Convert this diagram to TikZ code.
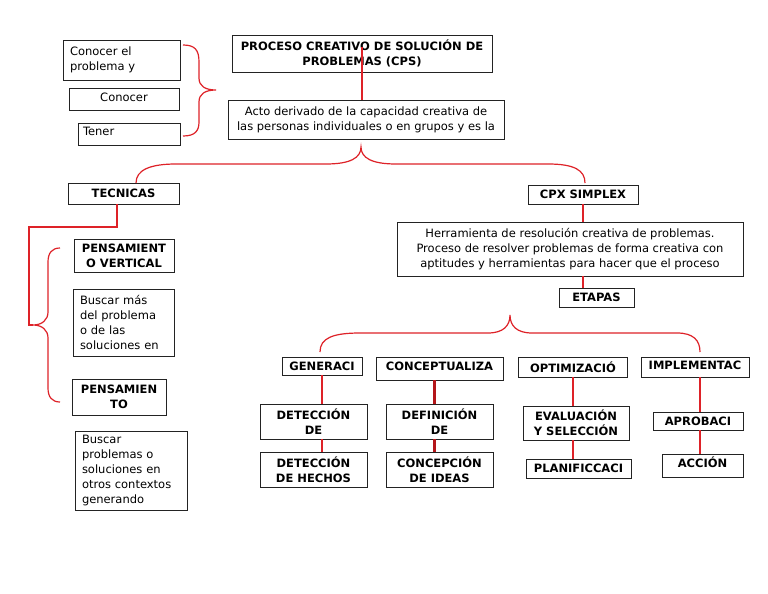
\documentclass[tikz,border=0pt]{standalone}
\usepackage{fontspec}
\setmainfont{DejaVu Sans}
\definecolor{linkred}{RGB}{222,34,40}
\definecolor{darklink}{RGB}{180,22,26}
\definecolor{boxline}{RGB}{35,35,35}
\tikzset{
  cbox/.style      = {draw=boxline,line width=0.8pt,inner sep=1.5pt,align=center,
                      font=\fontsize{11.5}{15}\selectfont},
  hbox/.style      = {cbox,font=\bfseries\fontsize{11.5}{15}\selectfont},
  lbox/.style      = {cbox,align=left},
  lift/.style      = {text depth=#1},
  redline/.style   = {linkred,line width=1.2pt},
  thickline/.style = {darklink,line width=2.4pt}
}

\begin{document}
\begin{tikzpicture}[x=1pt,y=-1pt]
  \path[use as bounding box,fill=white] (0,0) rectangle (768,594);
  % top left group
  \node[lbox,minimum width=117pt,minimum height=40pt,text width=103pt] (know) at (121.5,60) {Conocer el\\problema y};
  \node[cbox,lift=4pt,minimum width=110pt,minimum height=22pt] (knowb) at (124,99) {Conocer};
  \node[lbox,lift=6pt,minimum width=102pt,minimum height=22pt,text width=92pt] (have) at (129,134) {Tener};
  % title and definition
  \node[hbox,minimum width=260pt,minimum height=37pt] (title) at (362,53.5) {PROCESO CREATIVO DE SOLUCIÓN DE\\PROBLEMAS (CPS)};
  \node[cbox,minimum width=276pt,minimum height=39pt] (desc) at (366,119.5) {Acto derivado de la capacidad creativa de\\las personas individuales o en grupos y es la};
  % two branches
  \node[hbox,minimum width=111pt,minimum height=21pt] (tec) at (123.5,193.5) {TECNICAS};
  \node[hbox,minimum width=110pt,minimum height=19pt] (cpx) at (583,194.5) {CPX SIMPLEX};
  \node[cbox,minimum width=346pt,minimum height=54pt] (herr) at (570,249) {Herramienta de resolución creativa de problemas.\\Proceso de resolver problemas de forma creativa con\\aptitudes y herramientas para hacer que el proceso};
  \node[hbox,minimum width=75pt,minimum height=19pt] (etapas) at (596.5,297.5) {ETAPAS};
  % techniques
  \node[hbox,minimum width=100pt,minimum height=33pt] (pver) at (124,255.5) {PENSAMIENT\\O VERTICAL};
  \node[lbox,minimum width=101pt,minimum height=67pt,text width=87pt] (pvtxt) at (123.5,322.5) {Buscar más\\del problema\\o de las\\soluciones en};
  \node[hbox,minimum width=94pt,minimum height=36pt] (plat) at (119,397) {PENSAMIEN\\TO};
  \node[lbox,minimum width=112pt,minimum height=79pt,text width=98pt] (pltxt) at (131,470.5) {Buscar\\problemas o\\soluciones en\\otros contextos\\generando};
  % stages
  \node[hbox,minimum width=80pt,minimum height=18pt] (gen) at (322,366) {GENERACI};
  \node[hbox,lift=4pt,minimum width=127pt,minimum height=23pt] (con) at (439.5,368.5) {CONCEPTUALIZA};
  \node[hbox,minimum width=109pt,minimum height=20pt] (opt) at (573,367) {OPTIMIZACIÓ};
  \node[hbox,lift=4pt,minimum width=108pt,minimum height=20pt] (imp) at (695,367) {IMPLEMENTAC};
  \node[hbox,minimum width=107pt,minimum height=35pt] (det) at (313.5,421.5) {DETECCIÓN\\DE};
  \node[hbox,minimum width=107pt,minimum height=35pt] (deth) at (313.5,469.5) {DETECCIÓN\\DE HECHOS};
  \node[hbox,minimum width=107pt,minimum height=35pt] (defi) at (439.5,421.5) {DEFINICIÓN\\DE};
  \node[hbox,minimum width=107pt,minimum height=35pt] (conc) at (439.5,469.5) {CONCEPCIÓN\\DE IDEAS};
  \node[hbox,minimum width=106pt,minimum height=34pt] (evsel) at (576,423) {EVALUACIÓN\\Y SELECCIÓN};
  \node[hbox,minimum width=105pt,minimum height=19pt] (plan) at (578.5,468.5) {PLANIFICCACI};
  \node[hbox,minimum width=90pt,minimum height=18pt] (aprob) at (698,421) {APROBACI};
  \node[hbox,lift=6pt,minimum width=81pt,minimum height=23pt] (acc) at (702.5,465.5) {ACCIÓN};
  % brace points
  \coordinate (kup) at (183,45);
  \coordinate (ktip) at (216,90);
  \coordinate (kdown) at (183,136);
  \coordinate (tleft) at (136,183);
  \coordinate (ttip) at (361,147);
  \coordinate (tright) at (585,183);
  \coordinate (lup) at (60,248);
  \coordinate (ltip) at (33,325);
  \coordinate (ldown) at (60,402);
  \coordinate (corner) at (29,227);
  \coordinate (sleft) at (320,352);
  \coordinate (stip) at (510,315);
  \coordinate (sright) at (700,352);
  % braces
  \draw[redline] (kup) .. controls (195,45) and (199,50) .. (199,62) -- (199,78)
    .. controls (199,86) and (205,90) .. (ktip) .. controls (205,90) and (199,94) .. (199,102)
    -- (199,122) .. controls (199,131) and (195,136) .. (kdown);
  \draw[redline] (tleft) .. controls (136,170) and (150,164) .. (176,164) -- (326,164)
    .. controls (350,164) and (361,158) .. (ttip) .. controls (361,158) and (372,164) .. (396,164)
    -- (548,164) .. controls (574,164) and (585,170) .. (tright);
  \draw[redline] (lup) .. controls (52,248) and (48,253) .. (48,262) -- (48,312)
    .. controls (48,320) and (42,325) .. (ltip) .. controls (42,325) and (48,330) .. (48,338)
    -- (48,388) .. controls (48,397) and (52,402) .. (ldown);
  \draw[redline] (sleft) .. controls (320,338) and (333,333) .. (360,333) -- (488,333)
    .. controls (503,333) and (510,326) .. (stip) .. controls (510,326) and (517,333) .. (532,333)
    -- (677,333) .. controls (693,333) and (700,340) .. (sright);
  % connectors
  \draw[redline] ([yshift=6.5pt]title.center) -- (title.center |- desc.north);
  \draw[redline] ([xshift=-6.5pt]tec.south) |- (corner) -- (corner |- ltip) -- (ltip);
  \draw[redline] (cpx.south) -- (cpx.south |- herr.north);
  \draw[redline] (herr.south -| cpx.south) -- (etapas.north -| cpx.south);
  \draw[redline] (gen.south) -- (gen.south |- det.north);
  \draw[redline] (gen.south |- det.south) -- (gen.south |- deth.north);
  \draw[thickline] ([xshift=-5pt]con.south) -- ([xshift=-5pt]con.south |- defi.north);
  \draw[thickline] ([xshift=-5pt]defi.south) -- ([xshift=-5pt]conc.north);
  \draw[redline] (opt.south) -- (opt.south |- evsel.north);
  \draw[redline] (opt.south |- evsel.south) -- (opt.south |- plan.north);
  \draw[redline] ([xshift=5pt]imp.south) -- ([xshift=5pt]imp.south |- aprob.north);
  \draw[redline] ([xshift=5pt]imp.south |- aprob.south) -- ([xshift=5pt]imp.south |- acc.north);
\end{tikzpicture}
\end{document}
